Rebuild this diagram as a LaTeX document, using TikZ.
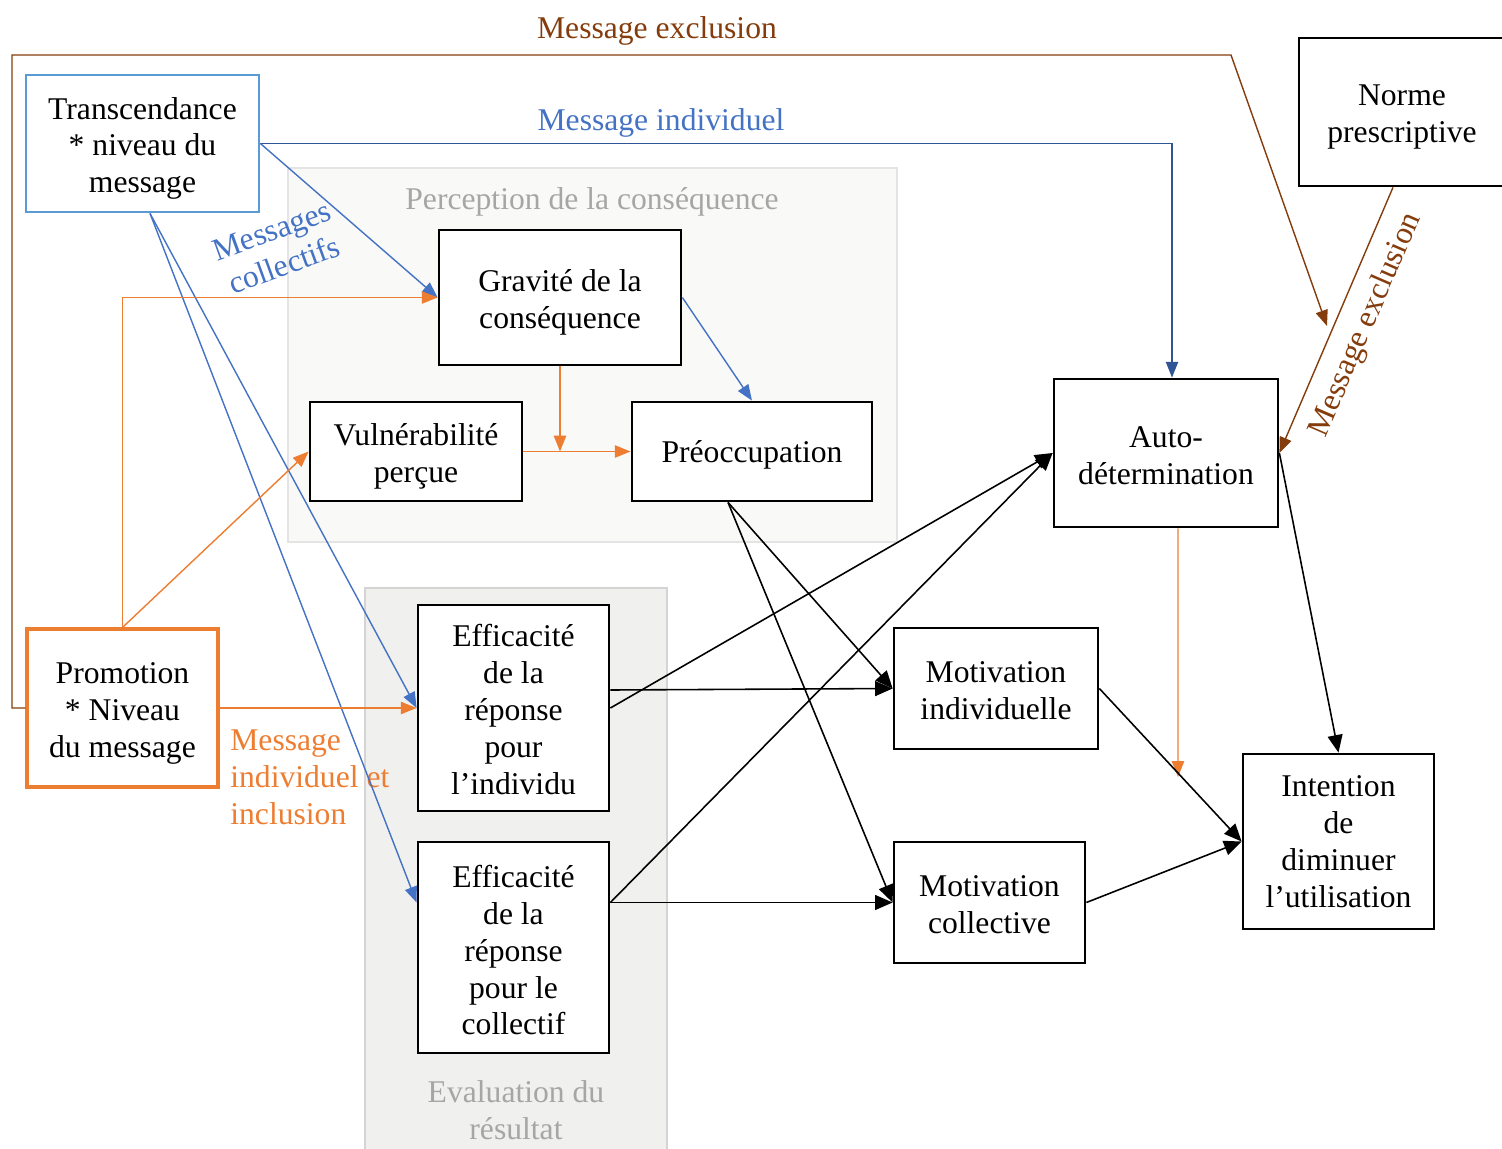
\documentclass[tikz,border=0pt]{standalone}
\usepackage{fontspec}
\setmainfont{Liberation Serif}
\usepackage{tikz}
\usetikzlibrary{arrows.meta}
\usepackage{xcolor}
\definecolor{brownline}{RGB}{132,60,12}
\definecolor{blueline}{RGB}{68,114,196}
\definecolor{darkblue}{RGB}{47,85,151}
\definecolor{orangeline}{RGB}{237,125,49}
\definecolor{transblue}{RGB}{91,155,213}
\definecolor{titlegrey}{RGB}{166,166,166}
\tikzset{%
    box/.style={%
        draw, line width=1.6pt, fill=white, align=center, inner sep=0pt,
        execute at begin node={\rule{0pt}{#1}}
    },
    box/.default=16.5pt,
    grouptitle/.style={text=titlegrey, align=center, inner sep=0pt},
    arr/.style={line width=0.8pt, -{Triangle[length=9pt,width=7pt]}},
    blk/.style={line width=0.9pt, -{Triangle[length=10pt,width=8.5pt]}}
}

\begin{document}
\begin{tikzpicture}[x=0.02cm, y=-0.02cm, font=\fontsize{18}{21}\selectfont]
    \useasboundingbox (0,0) rectangle (1502,1149);
    \filldraw[fill={rgb,255:red,249;green,249;blue,247}, draw={rgb,255:red,228;green,228;blue,228}, line width=1.2pt] (288,168) rectangle (897,542);
    \filldraw[fill={rgb,255:red,240;green,240;blue,238}, draw={rgb,255:red,212;green,212;blue,212}, line width=1.4pt] (365,588) rectangle (667,1170);
    \node[grouptitle] (perctitle) at (592,202) {Perception de la conséquence};
    \node[grouptitle] (evaltitle) at (516,1110) {Evaluation du\\résultat};

    \node[box=60pt, draw=transblue, minimum width=4.66cm, minimum height=2.74cm] (trans) at (142.5,143.5) {Transcendance\\* niveau du\\message};
    \node[box=38.6pt, minimum width=4.12cm, minimum height=2.96cm] (norme) at (1402,112) {Norme\\prescriptive};
    \node[box=39pt, minimum width=4.84cm, minimum height=2.70cm] (grav) at (560,297.5) {Gravité de la\\conséquence};
    \node[box=39pt, minimum width=4.24cm, minimum height=1.98cm] (vuln) at (416,451.5) {Vulnérabilité\\perçue};
    \node[box, minimum width=4.80cm, minimum height=1.98cm] (preo) at (752,451.5) {Préoccupation};
    \node[box=36.3pt, minimum width=4.48cm, minimum height=2.96cm] (auto) at (1166,453) {Auto-\\détermination};
    \node[box=59.7pt, draw=orangeline, line width=1.8pt, minimum width=3.82cm, minimum height=3.16cm] (promo) at (122.5,708) {Promotion\\* Niveau\\du message};
    \node[box=98.6pt, minimum width=3.82cm, minimum height=4.12cm] (effi) at (513.5,708) {Efficacité\\de la\\réponse\\pour\\l’individu};
    \node[box=99.7pt, minimum width=3.82cm, minimum height=4.22cm] (effc) at (513.5,947.5) {Efficacité\\de la\\réponse\\pour le\\collectif};
    \node[box=35.3pt, minimum width=4.08cm, minimum height=2.42cm] (motivi) at (996,688.5) {Motivation\\individuelle};
    \node[box=35.3pt, minimum width=3.82cm, minimum height=2.42cm] (motivc) at (989.5,902.5) {Motivation\\collective};
    \node[box=0pt, minimum width=3.82cm, minimum height=3.50cm] (inten) at (1338.5,841.5) {Intention\\de\\diminuer\\l’utilisation};

    \node[text=brownline] (exlabel) at (657,31) {Message exclusion};
    \node[text=brownline, rotate=66.6] (exlabelb) at (1366,325) {Message exclusion};
    \node[text=blueline] (indlabel) at (661,123) {Message individuel};
    \node[text=blueline, rotate=20, align=center] (collabel) at (278,248) {Messages\\collectifs};
    \node[text=orangeline, align=left, anchor=west, inner sep=0pt] (inclabel) at (230,777) {Message\\individuel et\\inclusion};

    \coordinate (exA) at (12,708);
    \coordinate (exB) at (12,55);
    \coordinate (exC) at (1231,55);
    \coordinate (exEnd) at (1327,326);
    \draw[brownline, arr] (promo.west) -- (exA) -- (exB) -- (exC) -- (exEnd);
    \draw[brownline, arr] ([xshift=-0.18cm]norme.south) -- (auto.east);

    \draw[darkblue, arr] (trans.east) -| ([xshift=0.12cm]auto.north);
    \draw[blueline, arr] (trans.east) -- (grav.west);
    \draw[blueline, arr] ([xshift=0.15cm]trans.south) -- (effi.west);
    \draw[blueline, arr] ([xshift=0.15cm]trans.south) -- ([yshift=0.9cm]effc.west);
    \draw[blueline, arr] (grav.east) -- (preo.north);

    \coordinate (gravEnd) at (grav.south |- vuln.east);
    \coordinate (autoEnd) at (1178,777);
    \draw[orangeline, arr] (promo.north) |- (grav.west);
    \draw[orangeline, arr] (promo.north) -- (vuln.west);
    \draw[orangeline, arr] (promo.east) -- (effi.west);
    \draw[orangeline, arr] (grav.south) -- (gravEnd);
    \draw[orangeline, arr] (vuln.east) -- (preo.west);
    \draw[orangeline, arr] ([xshift=0.24cm]auto.south) -- (autoEnd);

    \coordinate (effcOut) at (effc.east |- motivc.west);
    \draw[blk] (effi.east) -- (auto.west);
    \draw[blk] ([yshift=0.36cm]effi.east) -- (motivi.west);
    \draw[blk] (effcOut) -- (auto.west);
    \draw[blk] (effcOut) -- (motivc.west);
    \draw[blk] ([xshift=-0.48cm]preo.south) -- (motivi.west);
    \draw[blk] ([xshift=-0.48cm]preo.south) -- (motivc.west);
    \draw[blk] (auto.east) -- (inten.north);
    \draw[blk] (motivi.east) -- (inten.west);
    \draw[blk] (motivc.east) -- (inten.west);
\end{tikzpicture}
\end{document}
